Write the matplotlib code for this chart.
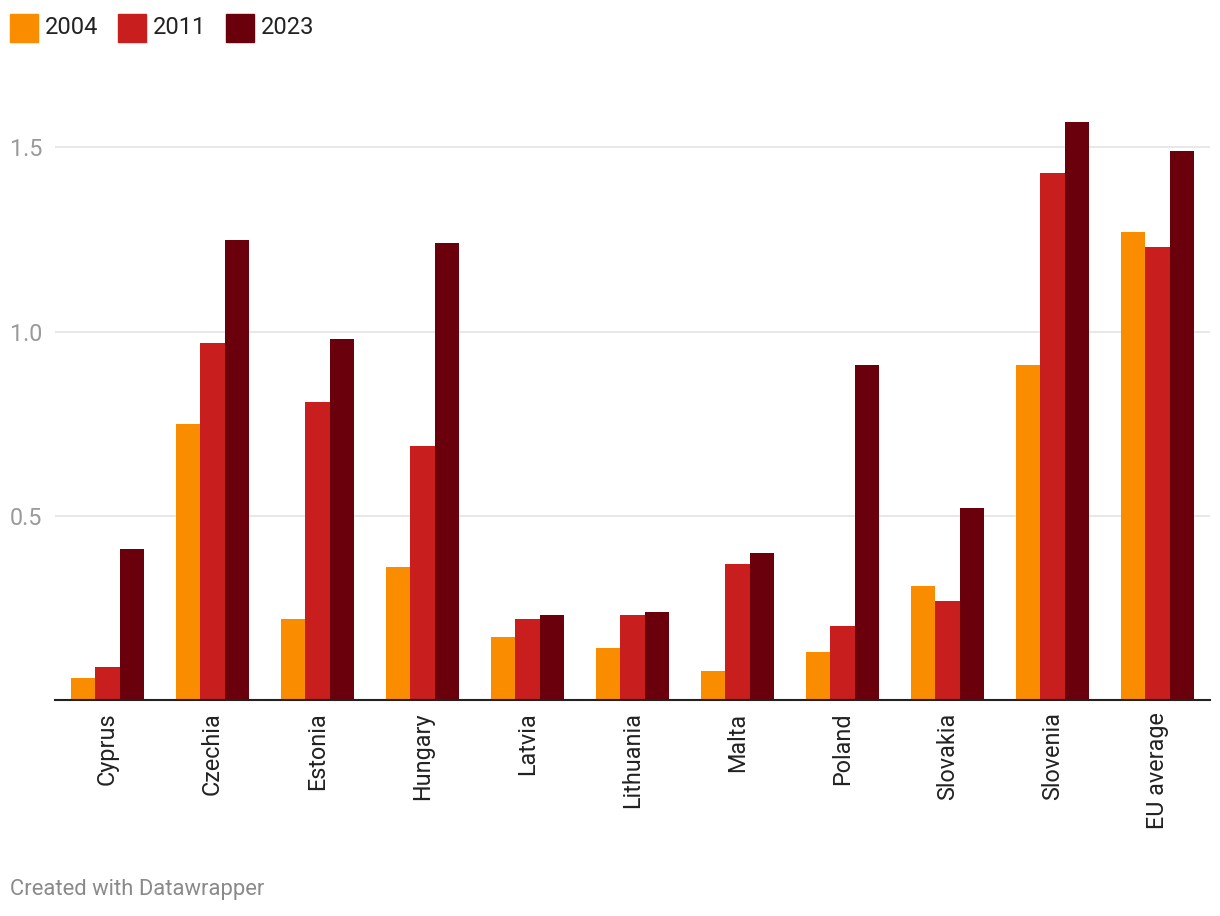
import matplotlib.pyplot as plt
import numpy as np
from matplotlib.patches import Rectangle

plt.rcParams['font.family'] = ['Roboto', 'DejaVu Sans']

countries = ["Cyprus", "Czechia", "Estonia", "Hungary", "Latvia", "Lithuania",
             "Malta", "Poland", "Slovakia", "Slovenia", "EU average"]
years = ["2004", "2011", "2023"]
v2004 = [0.06, 0.75, 0.22, 0.36, 0.17, 0.14, 0.08, 0.13, 0.31, 0.91, 1.27]
v2011 = [0.09, 0.97, 0.81, 0.69, 0.22, 0.23, 0.37, 0.20, 0.27, 1.43, 1.23]
v2023 = [0.41, 1.25, 0.98, 1.24, 0.23, 0.24, 0.40, 0.91, 0.52, 1.57, 1.49]
colors = ["#FA8C00", "#C81E1E", "#6A000C"]
yticks = [0.5, 1.0, 1.5]

fig = plt.figure(figsize=(12.2, 9.16), dpi=100)
ax = fig.add_axes([55/1220, 216/916, 1155/1220, 0.6635])

x = np.arange(len(countries))
w = 0.2317
for i, vals in enumerate([v2004, v2011, v2023]):
    ax.bar(x + (i - 1) * w, vals, width=w, color=colors[i], zorder=3)

ax.set_xlim(-0.5, len(countries) - 0.5)
ax.set_ylim(0, 1.65)
ax.set_yticks(yticks)
ax.set_yticklabels([f"{t:.1f}" for t in yticks])
ax.grid(axis="y", color="#e2e2e2", linewidth=1.1, zorder=0)
ax.set_xticks(x)
ax.set_xticklabels(countries, rotation=90, va="top", ha="center")
ax.tick_params(axis="x", length=0, pad=9, labelsize=16.8, labelcolor="#222222")
ax.tick_params(axis="y", length=0, pad=9, labelsize=16.8, labelcolor="#9a9a9a")
for s in ["top", "right", "left"]:
    ax.spines[s].set_visible(False)
ax.spines["bottom"].set_color("#222222")
ax.spines["bottom"].set_linewidth(1.5)
ax.spines["bottom"].set_zorder(4)

# legend, drawn by hand across the top
lx = [10, 118, 226]
for i, yr in enumerate(years):
    fig.add_artist(Rectangle((lx[i] / 1220, 1 - 42 / 916), 28 / 1220, 28 / 916,
                             transform=fig.transFigure, color=colors[i]))
    fig.text((lx[i] + 35) / 1220, 1 - 28 / 916, yr, fontsize=17,
             color="#222222", va="center", ha="left")

fig.text(10 / 1220, 1 - 890 / 916, "Created with Datawrapper", fontsize=15.8,
         color="#8a8a8a", va="center", ha="left")

fig.savefig("out.png", dpi=100)
